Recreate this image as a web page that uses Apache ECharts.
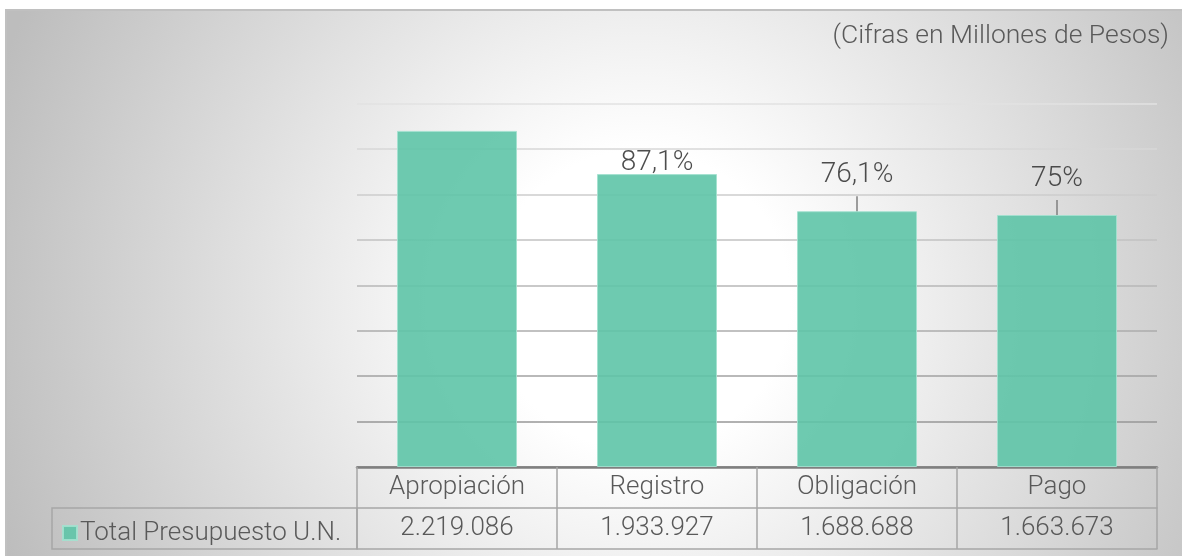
<!DOCTYPE html>
<html>
<head>
<meta charset="utf-8">
<script src="https://cdn.jsdelivr.net/npm/echarts@6/dist/echarts.min.js"></script>
<style>
  html, body { margin: 0; padding: 0; background: #fff; }
  #chart { width: 1182px; height: 556px; }
</style>
</head>
<body>
<div id="chart"></div>
<script>
// datos
const categories = ["Apropiación", "Registro", "Obligación", "Pago"];
const values = [2219086, 1933927, 1688688, 1663673];
const pctLabels = ["", "87,1%", "76,1%", "75%"];
const seriesName = "Total Presupuesto U.N.";
const yTicks = [0, 300000, 600000, 900000, 1200000, 1500000, 1800000, 2100000, 2400000];

// desplazamiento vertical de las etiquetas (px)
const labelDy = [0, 0, -18, -18];

const FONT = "Roboto";
const fmt = (v) => String(v).replace(/\B(?=(\d{3})+(?!\d))/g, ".");
const valueLabels = values.map(fmt);

const myChart = echarts.init(document.getElementById("chart"));

const barData = values.map((v, i) => ({
  value: v,
  label: { show: pctLabels[i] !== "" },
  labelLine: { show: labelDy[i] !== 0 },
}));

const option = {
  animation: false,
  graphic: [
    {
      type: "rect",
      z: -10,
      silent: true,
      shape: { x: 6, y: 10, width: 1200, height: 600 },
      style: {
        fill: new echarts.graphic.RadialGradient(640, 300, 680, [
          { offset: 0, color: "#ffffff" },
          { offset: 0.22, color: "#ffffff" },
          { offset: 1, color: "#bdbdbd" },
        ], true),
        stroke: "#c0c0c0",
        lineWidth: 2,
      },
    },
    {
      type: "rect",
      z: 10,
      silent: true,
      shape: { x: 52, y: 508, width: 305, height: 41 },
      style: { fill: "none", stroke: "#a6a6a6", lineWidth: 1.5 },
    },
  ],
  title: {
    text: "(Cifras en Millones de Pesos)",
    right: 8,
    top: 18,
    textStyle: { fontFamily: FONT, fontWeight: 300, fontSize: 26.5, color: "#595959" },
  },
  legend: {
    data: [seriesName],
    left: 57,
    top: 515,
    icon: "rect",
    itemWidth: 14,
    itemHeight: 14,
    itemGap: 6,
    textStyle: { fontFamily: FONT, fontWeight: 300, fontSize: 26, color: "#595959", padding: [0, 0, 0, -2] },
  },
  grid: { left: 357, right: 25, top: 103.5, bottom: 89 },
  xAxis: [
    {
      type: "category",
      data: categories,
      axisLine: { lineStyle: { color: "#7f7f7f", width: 2.5 } },
      axisTick: { show: true, interval: 0, length: 82, lineStyle: { color: "#a6a6a6", width: 1.5 } },
      axisLabel: { interval: 0, margin: 7, fontFamily: FONT, fontWeight: 300, fontSize: 26, color: "#595959" },
    },
    {
      type: "category",
      data: valueLabels,
      position: "bottom",
      offset: 41,
      axisLine: { lineStyle: { color: "#a6a6a6", width: 1.5 } },
      axisTick: { show: false },
      axisLabel: { interval: 0, margin: 7, fontFamily: FONT, fontWeight: 300, fontSize: 26, color: "#595959" },
    },
    {
      type: "category",
      data: valueLabels,
      position: "bottom",
      offset: 82,
      axisLine: { lineStyle: { color: "#a6a6a6", width: 1.5 } },
      axisTick: { show: false },
      axisLabel: { show: false },
    },
  ],
  yAxis: {
    type: "value",
    min: yTicks[0],
    max: yTicks[yTicks.length - 1],
    interval: yTicks[1] - yTicks[0],
    axisLabel: { show: false },
    axisLine: { show: false },
    axisTick: { show: false },
    splitLine: {
      lineStyle: {
        width: 1.5,
        color: new echarts.graphic.LinearGradient(0, 103, 0, 467, [
          { offset: 0, color: "#e2e2e2" },
          { offset: 1, color: "#8c8c8c" },
        ], true),
      },
    },
  },
  series: [
    {
      name: seriesName,
      type: "bar",
      xAxisIndex: 0,
      barWidth: "60%",
      data: barData,
      itemStyle: { color: "#5ec4a7", opacity: 0.9, borderColor: "#a3e1cf", borderWidth: 1 },
      label: {
        position: "top",
        distance: -3,
        color: "#3a3a3a",
        formatter: (p) => "{p|" + pctLabels[p.dataIndex] + "}" + (labelDy[p.dataIndex] !== 0 ? "\n{g| }" : ""),
        rich: {
          p: { fontFamily: FONT, fontWeight: 300, fontSize: 28, color: "#3a3a3a" },
          g: { fontSize: 6, lineHeight: 7, height: 7 },
        },
      },
      labelLine: { lineStyle: { color: "#7f7f7f", width: 1.5 } },
      labelLayout: (p) => ({ dy: labelDy[p.dataIndex] }),
    },
  ],
};

option && myChart.setOption(option);
</script>
</body>
</html>
